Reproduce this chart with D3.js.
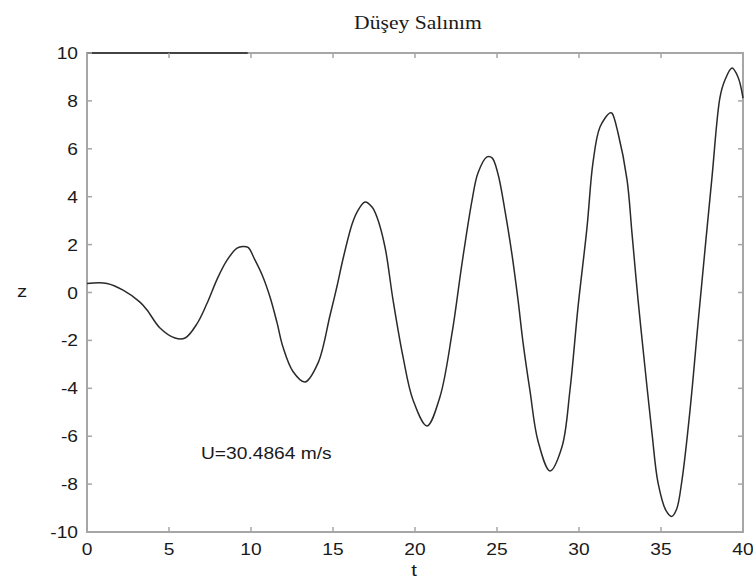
<!DOCTYPE html>
<html><head><meta charset="utf-8">
<script src="https://cdn.jsdelivr.net/npm/d3@7"></script>
<style>body{margin:0;background:#fff}svg{display:block}</style>
</head><body>
<svg id="chart" width="753" height="581"></svg>
<script>
const title = "Düşey Salınım";
const xLabel = "t";
const yLabel = "z";
const annotation = "U=30.4864 m/s";
const xTicks = [0, 5, 10, 15, 20, 25, 30, 35, 40];
const yTicks = [-10, -8, -6, -4, -2, 0, 2, 4, 6, 8, 10];
const tValues = [0,1.22,2.20,3.23,3.66,4.45,5.37,5.98,6.71,7.32,7.93,8.54,9.15,9.51,9.82,10.24,10.73,11.16,11.59,11.95,12.56,13.29,14.09,14.82,15.24,15.61,16.16,16.46,16.95,17.38,17.68,18.17,18.66,19.27,19.88,20.73,21.52,22.26,22.87,23.48,23.84,24.39,24.70,25.06,25.49,25.91,26.28,26.59,27.01,27.50,28.23,28.96,29.45,29.94,30.49,30.85,31.28,31.89,32.01,32.38,32.93,33.23,33.60,34.02,34.45,34.82,35.30,35.65,35.95,36.28,36.77,37.26,37.68,38.11,38.60,38.90,39.33,39.70,40.0];
const zValues = [0.38,0.38,0.10,-0.40,-0.73,-1.48,-1.90,-1.90,-1.30,-0.45,0.55,1.35,1.85,1.92,1.88,1.36,0.65,-0.19,-1.27,-2.28,-3.30,-3.74,-2.94,-0.95,0.25,1.40,2.85,3.35,3.78,3.57,3.15,1.90,-0.31,-2.69,-4.49,-5.57,-4.36,-1.69,1.23,3.86,4.99,5.66,5.62,4.95,3.40,1.60,-0.30,-2.10,-4.10,-6.20,-7.45,-6.45,-4.07,-0.61,2.73,5.41,6.91,7.50,7.49,6.66,4.70,2.48,-0.31,-3.11,-5.87,-7.95,-9.10,-9.35,-9.05,-7.83,-4.91,-1.27,1.77,4.82,8.16,8.87,9.37,8.99,8.12];
const topBlackEnd = 9.8;

const svg = d3.select("#chart");
const L = 87, R = 743, T = 53, B = 532;
const x = d3.scaleLinear().domain([0, 40]).range([L, R]);
const y = d3.scaleLinear().domain([-10, 10]).range([B, T]);
const boxColor = "#a6a6a6";
const sx = 1.2;

function txt(px, py, s, opts) {
  return svg.append("text")
    .attr("transform", `translate(${px},${py}) scale(${opts.sx || sx},1)`)
    .attr("font-family", opts.family || "'Liberation Sans', Arial, sans-serif")
    .attr("font-size", opts.size || 16)
    .attr("text-anchor", opts.anchor || "middle")
    .attr("fill", opts.fill || "#1a1a1a")
    .text(s);
}

// box
svg.append("rect").attr("x", L).attr("y", T).attr("width", R - L).attr("height", B - T)
  .attr("fill", "none").attr("stroke", boxColor).attr("stroke-width", 2);
svg.append("line").attr("x1", x(0)).attr("x2", x(topBlackEnd)).attr("y1", T).attr("y2", T)
  .attr("stroke", "#222").attr("stroke-width", 1.5);

// ticks (inward, all sides)
const tl = 5;
xTicks.forEach(v => {
  svg.append("line").attr("x1", x(v)).attr("x2", x(v)).attr("y1", B).attr("y2", B - tl).attr("stroke", boxColor).attr("stroke-width", 1.5);
  svg.append("line").attr("x1", x(v)).attr("x2", x(v)).attr("y1", T).attr("y2", T + tl).attr("stroke", boxColor).attr("stroke-width", 1.5);
  txt(x(v), 555, String(v), {size: 16});
});
yTicks.forEach(v => {
  svg.append("line").attr("x1", L).attr("x2", L + tl).attr("y1", y(v)).attr("y2", y(v)).attr("stroke", boxColor).attr("stroke-width", 1.5);
  svg.append("line").attr("x1", R).attr("x2", R - tl).attr("y1", y(v)).attr("y2", y(v)).attr("stroke", boxColor).attr("stroke-width", 1.5);
  txt(78, y(v) + 6, String(v), {size: 16, anchor: "end"});
});

// curve
const data = tValues.map((t, i) => [t, zValues[i]]);
const line = d3.line().x(d => x(d[0])).y(d => y(d[1])).curve(d3.curveCatmullRom.alpha(0.5));
svg.append("path").datum(data).attr("d", line)
  .attr("fill", "none").attr("stroke", "#2a2a2a").attr("stroke-width", 1.5);

// labels
txt(418, 29, title, {family: "'Liberation Serif', 'Times New Roman', serif", size: 18});
txt(414, 576, xLabel, {size: 17});
txt(22, 297, yLabel, {size: 17});
txt(201, 459, annotation, {size: 16, anchor: "start"});
</script>
</body></html>
